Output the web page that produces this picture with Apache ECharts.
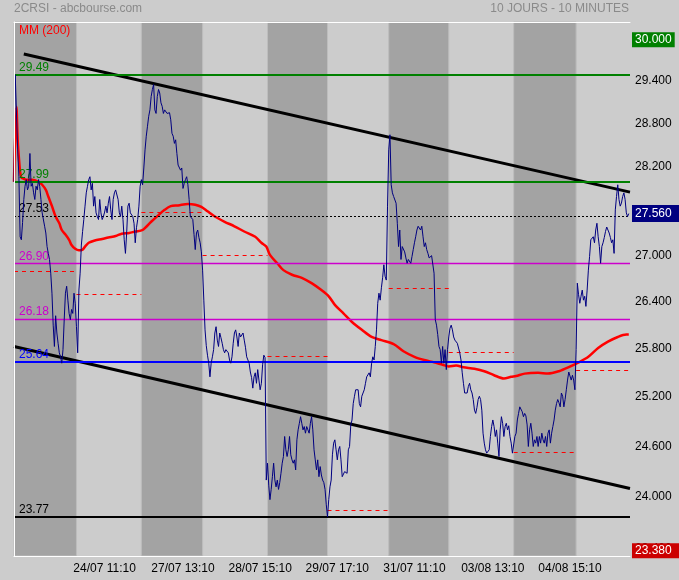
<!DOCTYPE html>
<html>
<head>
<meta charset="utf-8">
<title>2CRSI - abcbourse.com</title>
<script src="https://cdn.jsdelivr.net/npm/echarts@6/dist/echarts.min.js"></script>
<style>
  html, body { margin: 0; padding: 0; background: #cccccc; }
  #chart { width: 679px; height: 580px; }
</style>
</head>
<body>
<div id="chart"></div>
<script>
// ── Data ──────────────────────────────────────────────────────────────────────
// x = 10-minute bar index from the start of the 10-day window.

const dayBars   = [51, 53, 50, 53, 49, 50, 49, 53, 51, 44];
const prevClose = [26.80, 26.50, 27.58, 27.00, 25.71, 23.85, 26.58, 25.76, 24.53, 25.53];

const xLabelBars = [74, 138, 201, 264, 327, 391, 454];
const xLabels    = ['24/07 11:10', '27/07 13:10', '28/07 15:10', '29/07 17:10',
                    '31/07 11:10', '03/08 13:10', '04/08 15:10'];

const yTicks = [23.4, 24.0, 24.6, 25.2, 25.8, 26.4, 27.0, 27.6, 28.2, 28.8, 29.4, 30.0];
const yMin = 23.32;
const yMax = 30.26;

const levelValues = [29.49, 27.99, 27.53, 26.90, 26.18, 25.64, 23.77];

const trendTop    = [[8, 29.79], [503, 27.85]];
const trendBottom = [[0, 25.83], [503, 24.10]];

const axisHigh  = 30.00;
const lastPrice = 27.56;
const axisLow   = 23.38;

const price = [
  [0,27.99],[1,29.49],[3,28.43],[4,28.06],[5,27.25],[6,27.21],[7,27.44],[8,27.75],[9,27.93],[10,28.02],
  [11,27.88],[12,27.93],[13,28.38],[14,27.93],[15,27.97],[16,27.84],[17,27.75],[18,27.93],[19,27.88],[20,28.02],
  [21,27.93],[22,27.75],[23,27.57],[25,27.39],[26,27.30],[27,27.12],[28,27.03],[29,26.95],[30,26.77],[31,26.51],
  [32,26.10],[33,25.83],[34,26.22],[35,26.00],[36,25.87],[37,25.75],[38,25.70],[39,25.62],[40,25.79],[41,26.17],
  [42,26.51],[43,26.60],[44,26.42],[45,26.25],[46,26.17],[47,26.30],[48,26.25],[49,26.51],[50,26.38],[51,26.08],
  [52,25.75],[53,26.55],[54,26.77],[55,27.14],[56,27.32],[57,27.48],[58,27.66],[59,27.84],[60,27.93],[61,28.02],
  [62,28.06],[63,27.88],[64,27.97],[65,27.66],[66,27.79],[67,27.57],[68,27.52],[69,27.48],[70,27.75],[71,27.57],
  [72,27.48],[73,27.52],[74,27.58],[75,27.66],[76,27.57],[77,27.70],[78,27.79],[79,27.61],[80,27.48],[81,27.75],
  [82,27.84],[83,27.88],[84,27.90],[85,27.75],[86,27.57],[87,27.52],[88,27.66],[89,27.48],[90,27.21],[91,27.03],
  [92,27.30],[93,27.66],[94,27.70],[95,27.57],[96,27.57],[97,27.52],[98,27.43],[99,27.17],[100,27.37],[101,27.48],
  [102,27.66],[103,27.93],
  [104,28.02],[105,27.95],[106,28.18],[107,28.43],[108,28.62],[109,28.76],[110,28.90],[111,28.99],[112,29.18],[113,29.28],
  [114,29.35],[115,28.99],[116,28.94],[117,29.18],[118,29.28],[119,29.23],[120,29.09],[121,29.04],[122,28.94],[123,28.99],
  [124,28.98],[125,28.94],[126,28.96],[127,28.95],[128,28.85],[129,28.66],[130,28.62],[131,28.52],[132,28.57],[133,28.38],
  [134,28.22],[135,28.20],[136,28.15],[137,28.18],[138,27.90],[139,27.97],[140,28.02],[141,28.06],[142,27.95],[143,27.75],
  [144,27.52],[145,27.52],[146,27.48],[147,27.28],[148,27.08],[149,27.30],[150,27.34],[151,27.24],[152,27.17],[153,27.05],
  [154,26.81],[155,26.42],[156,26.04],[157,25.84],[158,25.72],[159,25.62],[160,25.45],[161,25.62],[162,25.70],[163,25.79],
  [164,26.00],[165,26.08],[166,25.91],[167,25.83],[168,26.00],[169,25.94],[170,25.87],[171,25.79],[172,25.75],[173,25.79],
  [174,25.77],[175,25.75],[176,25.66],[177,25.62],[178,25.70],[179,25.87],[180,26.00],[181,26.04],[182,25.95],[183,25.83],
  [184,26.00],[185,25.95],[186,25.95],[187,26.00],[188,25.91],[189,25.82],[190,25.70],[191,25.66],[192,25.62],[193,25.51],
  [194,25.44],[195,25.31],[196,25.45],[197,25.50],[198,25.37],[199,25.54],[200,25.41],[201,25.29],[202,25.37],[203,25.60],
  [204,25.72],[205,25.69],[206,24.20],
  [207,24.40],[208,24.14],[209,23.97],[210,24.09],[211,24.24],[212,24.40],[213,24.20],[214,24.12],[215,24.20],[216,24.09],
  [217,24.17],[218,24.28],[219,24.40],[220,24.48],[221,24.72],[222,24.56],[223,24.48],[224,24.56],[225,24.72],[226,24.50],
  [227,24.44],[228,24.40],[229,24.44],[230,24.32],[231,24.68],[232,24.80],[233,24.88],[234,24.96],[235,24.88],[236,24.80],
  [237,24.84],[238,24.76],[239,24.84],[240,24.80],[241,24.76],[242,24.88],[243,24.96],[244,24.80],[245,24.56],[246,24.44],
  [247,24.32],[248,24.44],[249,24.24],[250,24.36],[251,24.26],[252,24.20],[253,24.17],[254,24.09],[255,23.91],
  [256,23.77],[257,23.97],[258,24.12],[259,24.20],[260,24.50],[261,24.64],[262,24.68],[263,24.56],[264,24.44],[265,24.56],
  [266,24.60],[267,24.44],[268,24.24],[269,24.26],[270,24.30],[271,24.32],[272,24.28],[273,24.56],[274,24.60],[275,24.86],
  [276,24.92],[277,25.12],[278,25.21],[279,25.29],[280,25.31],[281,25.29],[282,25.12],[283,25.08],[284,25.21],[285,25.21],
  [286,25.29],[287,25.37],[288,25.45],[289,25.47],[290,25.50],[291,25.45],[292,25.62],[293,25.70],[294,25.66],[295,25.83],
  [296,26.04],[297,26.38],[298,26.51],[299,26.42],[300,26.58],[301,26.71],[302,26.88],[303,26.73],[304,26.68],[305,27.66],
  [306,28.43],[307,28.64],[308,27.95],[309,27.84],[310,27.79],[311,27.81],[312,27.70],[313,27.43],[314,27.12],[315,27.34],
  [316,26.95],[317,27.12],[318,27.14],[319,27.05],[320,26.97],[321,26.90],[322,26.95],[323,26.97],[324,26.90],[325,26.99],
  [326,27.08],[327,27.17],[328,27.25],[329,27.34],[330,27.39],[331,27.39],[332,27.34],[333,27.39],[334,27.25],[335,27.12],
  [336,27.17],[337,27.08],[338,27.03],[339,26.97],[340,26.99],[341,27.00],[342,26.99],[343,26.77],[344,26.17],[345,26.10],
  [346,25.98],[347,25.83],[348,25.79],[349,25.62],[350,25.83],[351,25.62],[352,25.79],[353,25.54],[354,25.79],
  [355,25.95],[356,26.06],[357,26.10],[358,26.04],[359,25.95],[360,25.91],[361,25.93],[362,25.87],[363,25.87],[364,25.75],
  [365,25.66],[366,25.50],[367,25.37],[368,25.25],[369,25.23],[370,25.25],[371,25.33],[372,25.37],[373,25.29],[374,25.25],
  [375,25.17],[376,25.04],[377,25.00],[378,25.07],[379,25.17],[380,25.21],[381,25.17],[382,25.04],[383,24.76],[384,24.64],
  [385,24.56],[386,24.52],[387,24.54],[388,24.56],[389,24.72],[390,24.84],[391,24.92],[392,24.84],[393,24.72],[394,24.80],
  [395,24.64],[396,24.48],[397,24.80],[398,24.96],[399,24.88],[400,24.72],[401,24.84],[402,24.88],[403,24.80],[404,24.85],
  [405,24.72],[406,24.64],[407,24.52],
  [408,24.52],[409,24.72],[410,24.76],[411,24.92],[412,25.00],[413,25.08],[414,25.08],[415,25.02],[416,24.96],[417,25.00],
  [418,24.97],[419,24.86],[420,24.60],[421,24.80],[422,24.88],[423,24.76],[424,24.60],[425,24.68],[426,24.64],[427,24.72],
  [428,24.60],[429,24.72],[430,24.64],[431,24.76],[432,24.68],[433,24.64],[434,24.72],[435,24.60],[436,24.76],[437,24.80],
  [438,24.64],[439,24.76],[440,24.84],[441,24.92],[442,25.04],[443,25.12],[444,25.17],[445,25.13],[446,25.08],[447,25.25],
  [448,25.21],[449,25.08],[450,25.17],[451,25.29],[452,25.41],[453,25.51],[454,25.50],[455,25.41],[456,25.47],[457,25.41],
  [458,25.29],
  [459,25.79],[460,26.64],[461,26.49],[462,26.38],[463,26.47],[464,26.55],[465,26.42],[466,26.47],[467,26.34],[468,26.55],
  [469,26.81],[470,26.99],[471,27.21],[472,27.19],[473,27.25],[474,27.17],[475,27.34],[476,27.43],[477,27.25],[478,27.12],
  [479,26.90],[480,27.12],[481,27.17],[482,27.24],[483,27.32],[484,27.38],[485,27.37],[486,27.30],[487,27.24],[488,27.17],
  [489,27.21],[490,27.03],[491,27.61],[492,27.79],[493,27.95],[494,27.75],[495,27.66],[496,27.70],[497,27.79],[498,27.84],
  [499,27.75],[500,27.57],[501,27.52],[502,27.56]
];

const mm200 = [
  [0,27.99],[2,29.03],[3,28.57],[4,28.32],[5,28.13],[6,28.05],[8,28.03],[10,28.02],[15,28.02],[20,27.99],
  [23,27.95],[26,27.88],[28,27.79],[31,27.66],[34,27.52],[37,27.43],[39,27.34],[42,27.28],[45,27.21],[47,27.14],
  [50,27.09],[53,27.07],[56,27.08],[58,27.12],[61,27.17],[66,27.20],[72,27.22],[77,27.24],[83,27.26],[88,27.29],
  [94,27.30],[99,27.32],[105,27.34],[112,27.45],[118,27.54],[123,27.61],[128,27.66],[134,27.67],[142,27.69],[148,27.68],
  [153,27.65],[158,27.59],[164,27.52],[172,27.45],[180,27.39],[188,27.32],[197,27.25],[202,27.17],[206,27.12],[209,27.01],
  [215,26.90],[220,26.81],[227,26.75],[235,26.71],[243,26.64],[251,26.55],[257,26.47],[262,26.36],[269,26.25],[276,26.14],
  [284,26.04],[292,25.95],[300,25.91],[310,25.86],[318,25.77],[327,25.70],[335,25.66],[343,25.63],[350,25.60],[355,25.58],
  [361,25.59],[367,25.57],[376,25.55],[384,25.52],[392,25.47],[400,25.43],[406,25.45],[410,25.46],[417,25.49],[428,25.50],
  [436,25.49],[445,25.52],[453,25.57],[461,25.63],[469,25.70],[477,25.81],[485,25.89],[493,25.95],[500,25.98],[502,25.98]
];

// ── Styles ────────────────────────────────────────────────────────────────────

const FONT = '"Liberation Sans", Arial, Helvetica, sans-serif';
const GREEN = '#008000', MAGENTA = '#cc00cc', BLUE = '#0000ff', BLACK = '#000000';

// one entry per levelValues item, same order
const LEVEL_STYLES = [
  { color: GREEN,   width: 2,   type: 'solid' },
  { color: GREEN,   width: 2,   type: 'solid' },
  { color: BLACK,   width: 1,   type: [2, 2]  },
  { color: MAGENTA, width: 1.3, type: 'solid' },
  { color: MAGENTA, width: 1.3, type: 'solid' },
  { color: BLUE,    width: 2,   type: 'solid' },
  { color: BLACK,   width: 2,   type: 'solid' },
];

// ── Build ─────────────────────────────────────────────────────────────────────
// The price scale is logarithmic: everything is plotted as ln(price) on a
// value axis, tick labels are mapped back with exp().
// markLine rounds its values to `precision` decimals, so keep that high.

const ln = Math.log;
const toLog = pts => pts.map(([i, p]) => [i, ln(p)]);

const dayStarts = [];
const totalBars = dayBars.reduce((acc, n) => { dayStarts.push(acc); return acc + n; }, 0);

const bandAreas = dayStarts
  .map((s, d) => [{ xAxis: s }, { xAxis: s + dayBars[d] }])
  .filter((_, d) => d % 2 === 0);

const prevCloseLines = dayStarts.map((s, d) => [
  { coord: [s, ln(prevClose[d])], lineStyle: { color: '#ff0000', width: 1, type: [4, 4] } },
  { coord: [s + dayBars[d], ln(prevClose[d])] },
]);

const levelLines = levelValues.map((v, k) => {
  const st = LEVEL_STYLES[k];
  return {
    yAxis: ln(v),
    lineStyle: { color: st.color, width: st.width, type: st.type, opacity: 1 },
    label: {
      show: true, position: 'insideStartTop', distance: [5, 1],
      formatter: v.toFixed(2), color: st.color, fontSize: 12, fontFamily: FONT,
    },
  };
});

const boxLine = (v, bg, padV, padR) => ({
  yAxis: ln(v),
  label: {
    show: true, position: 'end', distance: 2,
    formatter: v.toFixed(3), color: '#ffffff', backgroundColor: bg,
    padding: [padV, padR, padV - 1, 3], fontSize: 12, fontFamily: FONT,
  },
});

const whiteLine = { show: true, lineStyle: { color: '#ffffff', width: 1 } };

const option = {
  animation: false,
  backgroundColor: '#cccccc',
  textStyle: { fontFamily: FONT },
  title: [
    { text: '2CRSI - abcbourse.com', left: 14, top: 3, padding: 0,
      textStyle: { color: '#8a8a8a', fontSize: 12, fontWeight: 'normal', fontFamily: FONT } },
    { text: '10 JOURS - 10 MINUTES', right: 50, top: 3, padding: 0,
      textStyle: { color: '#8a8a8a', fontSize: 12, fontWeight: 'normal', fontFamily: FONT } },
  ],
  legend: {
    data: ['MM (200)'], left: 14, top: 24, padding: 0,
    icon: 'none', itemWidth: 0, selectedMode: false,
    textStyle: { color: '#ff0000', fontSize: 12, fontFamily: FONT },
  },
  grid: { left: 14, right: 49, top: 22, bottom: 24, containLabel: false, outerBoundsMode: 'none' },
  xAxis: [
    {
      type: 'value', min: 0, max: totalBars, z: 10,
      axisLine: whiteLine, axisTick: { show: false }, splitLine: { show: false },
      axisLabel: {
        customValues: xLabelBars, margin: 7, color: '#000000', fontSize: 12, fontFamily: FONT,
        formatter: v => xLabels[xLabelBars.indexOf(v)] || '',
      },
    },
    {
      type: 'value', position: 'top', min: 0, max: totalBars, z: 10,
      axisLine: whiteLine, axisTick: { show: false }, splitLine: { show: false },
      axisLabel: { show: false },
    },
  ],
  yAxis: [
    {
      // price axis sits below the highlighted value boxes
      type: 'value', position: 'right', min: ln(yMin), max: ln(yMax), z: 0,
      axisLine: whiteLine, axisTick: { show: false }, splitLine: { show: false },
      axisLabel: {
        customValues: yTicks.map(ln), margin: 5, color: '#000000', fontSize: 12, fontFamily: FONT,
        formatter: v => Math.exp(v).toFixed(3),
      },
    },
    {
      type: 'value', position: 'left', min: ln(yMin), max: ln(yMax), z: 10,
      axisLine: whiteLine, axisTick: { show: false }, splitLine: { show: false },
      axisLabel: { show: false },
    },
  ],
  series: [
    {
      name: 'days', type: 'line', data: [], silent: true, z: 1,
      markArea: {
        silent: true, label: { show: false },
        itemStyle: { color: '#a3a3a3', borderColor: '#bdbdbd', borderWidth: 1 },
        data: bandAreas,
      },
    },
    {
      name: 'levels', type: 'line', data: [], silent: true, z: 2,
      markLine: {
        silent: true, symbol: 'none', animation: false, precision: 10,
        label: { show: false },
        data: [...levelLines, ...prevCloseLines],
      },
    },
    {
      name: 'trendTop', type: 'line', data: toLog(trendTop), showSymbol: false, silent: true, z: 3,
      lineStyle: { color: BLACK, width: 3 },
    },
    {
      name: 'trendBottom', type: 'line', data: toLog(trendBottom), showSymbol: false, silent: true, z: 3,
      lineStyle: { color: BLACK, width: 3 },
    },
    {
      name: 'MM (200)', type: 'line', data: toLog(mm200), showSymbol: false, silent: true, z: 4,
      smooth: 0.3, lineStyle: { color: '#ff0000', width: 2.5 },
    },
    {
      name: '2CRSI', type: 'line', data: toLog(price), showSymbol: false, silent: true, z: 5,
      lineStyle: { color: '#000080', width: 1 },
    },
    {
      name: 'marks', type: 'line', data: [], silent: true, z: 20,
      markLine: {
        silent: true, symbol: 'none', animation: false, precision: 10, z: 20,
        lineStyle: { color: 'rgba(0,0,0,0)', width: 0 },
        data: [
          boxLine(axisHigh, GREEN, 2, 3),
          boxLine(lastPrice, '#000080', 3, 10),
          boxLine(axisLow, '#cc0000', 2, 10),
        ],
      },
    },
  ],
};

const chart = echarts.init(document.getElementById('chart'), null, { renderer: 'canvas' });
chart.setOption(option);
</script>
</body>
</html>
